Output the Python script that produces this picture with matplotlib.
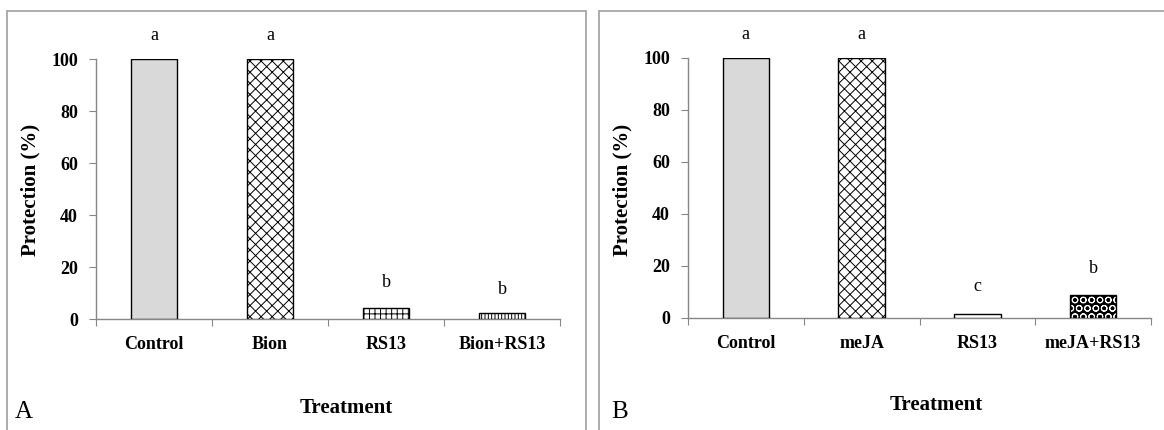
import numpy as np
import matplotlib
matplotlib.use('Agg')
import matplotlib.pyplot as plt
from matplotlib.patches import Rectangle

plt.rcParams['font.family'] = ['Liberation Serif', 'DejaVu Serif']
plt.rcParams['hatch.linewidth'] = 0.7

# Panel A data
cats_a = ['Control', 'Bion', 'RS13', 'Bion+RS13']
vals_a = [100, 100, 4.2, 2.3]
letters_a = ['a', 'a', 'b', 'b']
letter_y_a = [109, 109, 14.2, 11.2]

# Panel B data
cats_b = ['Control', 'meJA', 'RS13', 'meJA+RS13']
vals_b = [100, 100, 1.7, 8.7]
letters_b = ['a', 'a', 'c', 'b']
letter_y_b = [109, 109, 12, 19]

yticks = [0, 20, 40, 60, 80, 100]

W, H = 1164, 430
AXIS_GREY = '#868686'


def fx(px):
    return px / W


def fy(py):
    return 1 - py / H


fig = plt.figure(figsize=(W / 100, H / 100), dpi=100)

# panel frames
for left, right in [(7, 586), (599, 1175)]:
    fig.add_artist(Rectangle((fx(left), fy(445)), fx(right) - fx(left), fy(11) - fy(445),
                             transform=fig.transFigure, fill=False,
                             edgecolor='#a6a6a6', lw=1.3))


def draw_panel(ax, cats, vals, letters, letter_y, styles):
    x = np.arange(len(cats))
    for i, (v, st) in enumerate(zip(vals, styles)):
        if st.get('inverse'):
            # black bar with white pattern
            ax.bar(x[i], v, width=0.4, color='black', edgecolor='white',
                   hatch=st['hatch'], linewidth=0, zorder=3)
            ax.bar(x[i], v, width=0.4, fill=False, edgecolor='black',
                   linewidth=1, zorder=4)
        else:
            ax.bar(x[i], v, width=0.4, color=st.get('color', 'white'),
                   edgecolor='black', hatch=st.get('hatch'), linewidth=1, zorder=3)
    for i, (t, ly) in enumerate(zip(letters, letter_y)):
        ax.text(x[i], ly, t, ha='center', va='center', fontsize=13)

    ax.set_xlim(-0.5, len(cats) - 0.5)
    ax.set_ylim(0, 100)
    for s in ['top', 'right']:
        ax.spines[s].set_visible(False)
    for s in ['left', 'bottom']:
        ax.spines[s].set_color(AXIS_GREY)
        ax.spines[s].set_linewidth(1)

    ax.set_xticks(np.arange(len(cats) + 1) - 0.5)
    ax.set_xticklabels([])
    ax.set_xticks(x, minor=True)
    ax.set_xticklabels(cats, minor=True, fontweight='bold', fontsize=13)
    ax.tick_params(axis='x', which='major', direction='out', length=5, color=AXIS_GREY)
    ax.tick_params(axis='x', which='minor', length=0, pad=12)

    ax.set_yticks(yticks)
    ax.set_yticklabels([str(t) for t in yticks], fontweight='bold', fontsize=13)
    ax.tick_params(axis='y', direction='out', length=5, color=AXIS_GREY, pad=8)


# Panel A
ax1 = fig.add_axes([fx(96), fy(319), fx(560) - fx(96), fy(59) - fy(319)])
styles_a = [{'color': '#d9d9d9'}, {'hatch': 'xxx'}, {'hatch': '+++'}, {'hatch': '|||||'}]
draw_panel(ax1, cats_a, vals_a, letters_a, letter_y_a, styles_a)

# Panel B
ax2 = fig.add_axes([fx(688), fy(318), fx(1151) - fx(688), fy(57.5) - fy(318)])
styles_b = [{'color': '#d9d9d9'}, {'hatch': 'xxx'}, {'hatch': '---'},
            {'hatch': 'OO', 'inverse': True}]
draw_panel(ax2, cats_b, vals_b, letters_b, letter_y_b, styles_b)

# axis titles and panel letters
for yl_x, tr_x, tr_y, pl_x, pl in [(30, 346, 408, 24, 'A'), (622, 936, 405, 620, 'B')]:
    fig.text(fx(yl_x), fy(190), 'Protection (%)', rotation=90, ha='center', va='center',
             fontsize=15, fontweight='bold')
    fig.text(fx(tr_x), fy(tr_y), 'Treatment', ha='center', va='center',
             fontsize=15, fontweight='bold')
    fig.text(fx(pl_x), fy(412), pl, ha='center', va='center', fontsize=18)

fig.savefig('out.png', dpi=100)
